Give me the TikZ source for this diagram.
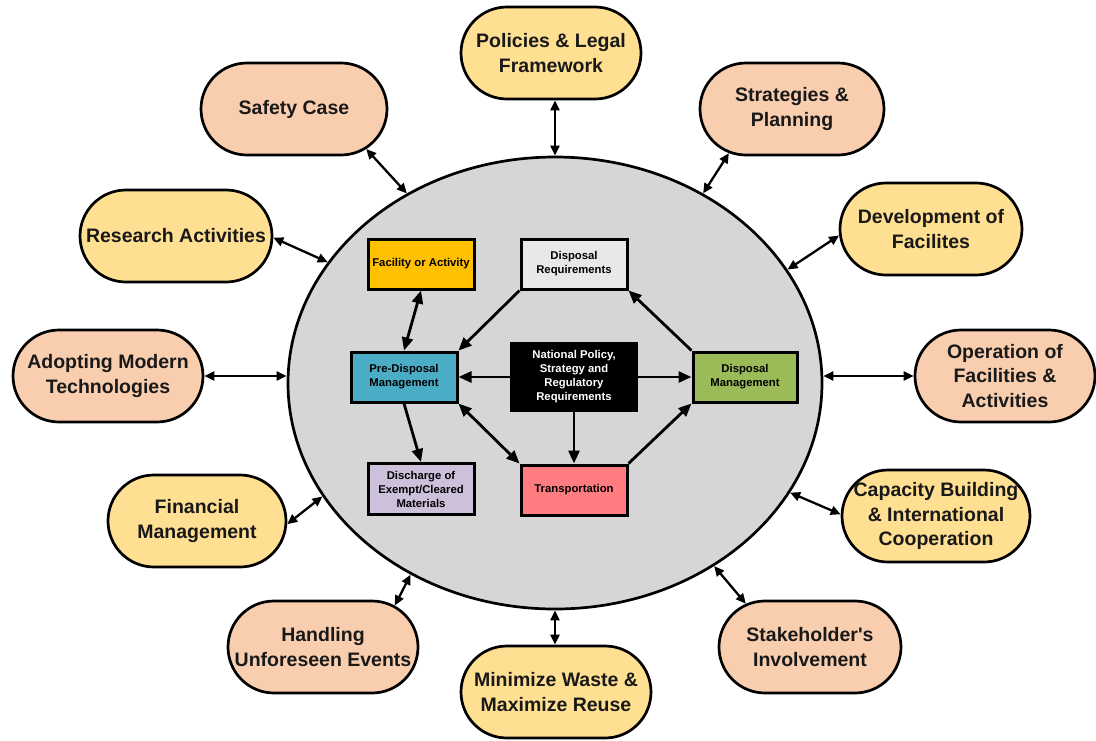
\documentclass[tikz,border=0pt]{standalone}
\usepackage{fontspec}
\setmainfont{Liberation Sans}
\usetikzlibrary{shapes.geometric,shapes.misc,arrows.meta}
\definecolor{ylw}{HTML}{FFDF91}
\definecolor{pch}{HTML}{F9CEAF}
\definecolor{ellgray}{HTML}{D6D6D6}
\definecolor{facor}{HTML}{FFC000}
\definecolor{dreqc}{HTML}{E8E8E8}
\definecolor{prec}{HTML}{4BACC6}
\definecolor{dmc}{HTML}{9BBB59}
\definecolor{disc}{HTML}{CCC0DA}
\definecolor{transc}{HTML}{FF7C80}
\begin{document}
\begin{tikzpicture}[x=1pt,y=-1pt,
  outer/.style={rounded rectangle, draw=black, line width=2.7pt, minimum height=92pt, inner sep=0pt},
  otext/.style={font=\bfseries\fontsize{19.5}{24.5}\selectfont, align=center, text=black!90, inner sep=0pt},
  ibox/.style={rectangle, draw=black, line width=3pt, minimum width=106pt, minimum height=50pt, inner sep=0pt, align=center, font=\bfseries\fontsize{11.3}{14}\selectfont},
  oarr/.style={{Triangle[length=10pt,width=9pt]}-{Triangle[length=10pt,width=9pt]}, line width=2.3pt},
  iarr/.style={-{Triangle[length=13pt,width=11pt]}, line width=2.8pt},
  iarrb/.style={{Triangle[length=13pt,width=11pt]}-{Triangle[length=13pt,width=11pt]}, line width=2.8pt},
]
\fill[white] (0,0) rectangle (1096,740);
\useasboundingbox (0,0) rectangle (1096,740);

% central ellipse
\node[ellipse, draw=black, fill=ellgray, line width=2.7pt, minimum width=534pt, minimum height=452pt, inner sep=0pt] (ell) at (555,383) {};

% outer nodes
\node[outer, fill=ylw, minimum width=180pt] (policies) at (551,53) {};
\node[otext] (policies-t) at (policies) {Policies \& Legal\\Framework};
\node[outer, fill=pch, minimum width=184pt] (strategies) at (792,109) {};
\node[otext] (strategies-t) at (strategies) {Strategies \&\\Planning};
\node[outer, fill=pch, minimum width=186pt] (safety) at (294,109) {};
\node[otext] (safety-t) at (safety) {Safety Case};
\node[outer, fill=ylw, minimum width=192pt] (research) at (176,236) {};
\node[otext] (research-t) at (research) {Research Activities};
\node[outer, fill=ylw, minimum width=182pt] (development) at (931,229) {};
\node[otext] (development-t) at (development) {Development of\\Facilites};
\node[outer, fill=pch, minimum width=190pt] (adopting) at (108,376) {};
\node[otext] (adopting-t) at (adopting) {Adopting Modern\\Technologies};
\node[outer, fill=pch, minimum width=180pt] (operation) at (1005,376) {};
\node[otext] (operation-t) at (operation) {Operation of\\Facilities \&\\Activities};
\node[outer, fill=ylw, minimum width=178pt] (financial) at (197,521) {};
\node[otext] (financial-t) at (financial) {Financial\\Management};
\node[outer, fill=ylw, minimum width=188pt] (capacity) at (936,516) {};
\node[otext] (capacity-t) at (capacity) {Capacity Building\\\& International\\Cooperation};
\node[outer, fill=pch, minimum width=190pt] (handling) at (323,647) {};
\node[otext] (handling-t) at (handling) {Handling\\Unforeseen Events};
\node[outer, fill=pch, minimum width=182pt] (stakeholder) at (810,647) {};
\node[otext] (stakeholder-t) at (stakeholder) {Stakeholder\textquotesingle s\\Involvement};
\node[outer, fill=ylw, minimum width=190pt] (minimize) at (556,692) {};
\node[otext] (minimize-t) at (minimize) {Minimize Waste \&\\Maximize Reuse};

% outer connectors
\draw[oarr] (ell.90) -- (ell.90 |- policies.south);
\draw[oarr] (strategies.215.5) -- (ell.52.9);
\draw[oarr] (safety.-29) -- (ell.128.6);
\draw[oarr] (research.-1) -- (ell.152.2);
\draw[oarr] (development.184.5) -- (ell.26.8);
\draw[oarr] (adopting.east) -- (adopting.east -| ell.west);
\draw[oarr] (operation.west) -- (operation.west -| ell.east);
\draw[oarr] (financial.358.6) -- (ell.206.5);
\draw[oarr] (capacity.179.4) -- (ell.335.7);
\draw[oarr] (handling.30.8) -- (ell.233.6);
\draw[oarr] (stakeholder.146) -- (ell.311.1);
\draw[oarr] (ell.270) -- (ell.270 |- minimize.north);

% inner boxes
\node[ibox, fill=facor] (fac) at (421,264) {Facility or Activity};
\node[ibox, fill=dreqc] (dreq) at (574,264) {Disposal\\Requirements};
\node[ibox, fill=prec] (pre) at (404,377) {Pre-Disposal\\Management};
\node[ibox, fill=black, text=white, minimum width=125pt, minimum height=67pt] (nat) at (574,377) {National Policy,\\Strategy and\\Regulatory\\Requirements};
\node[ibox, fill=dmc, minimum width=104pt] (dm) at (745,377) {Disposal\\Management};
\node[ibox, fill=disc, minimum height=51pt] (dis) at (421,489) {Discharge of\\Exempt/Cleared\\Materials};
\node[ibox, fill=transc] (trans) at (574,490) {Transportation};

% inner connectors
\draw[iarrb] (fac.south) -- (pre.north);
\draw[iarr] (dreq.south west) -- (pre.north east);
\draw[iarr] (dm.north west) -- (dreq.south east);
\draw[iarr] (nat.west) -- (pre.east);
\draw[iarr] (nat.east) -- (dm.west);
\draw[iarr] (nat.south) -- (trans.north);
\draw[iarrb] (pre.south east) -- (trans.north west);
\draw[iarr] (trans.north east) -- (dm.south west);
\draw[iarr] (pre.south) -- (dis.north);
\end{tikzpicture}
\end{document}
